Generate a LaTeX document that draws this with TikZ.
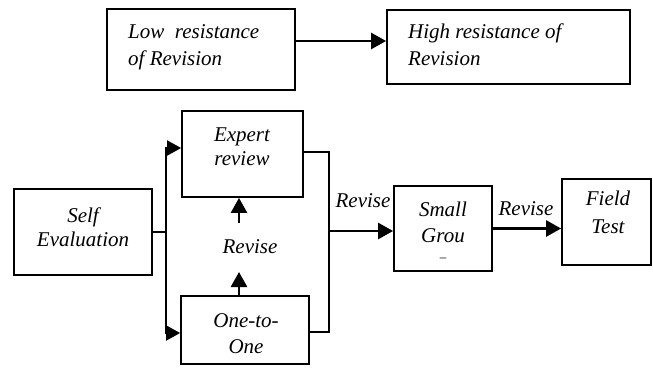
\documentclass[tikz,border=0pt]{standalone}
\usepackage{fontspec}
\setmainfont{Liberation Serif}
\usetikzlibrary{arrows.meta}
\begin{document}
\begin{tikzpicture}[x=1pt,y=-1pt,
  box/.style={draw, line width=1.8pt, inner sep=0pt},
  txt/.style={inner sep=0pt, font=\fontsize{21}{26}\selectfont\itshape},
  conn/.style={line width=1.9pt},
  arr/.style={line width=2.6pt, -{Triangle[length=15pt,width=16pt]}},
  arrthin/.style={line width=1.9pt, -{Triangle[length=14pt,width=15pt]}}]
\useasboundingbox (0,0) rectangle (653,367);
% boxes
\node[box, minimum width=188pt, minimum height=81pt] (Low) at (201,49.5) {};
\node[box, minimum width=243pt, minimum height=74pt] (High) at (508.5,47) {};
\node[box, minimum width=121pt, minimum height=86pt] (Expert) at (242.5,154) {};
\node[box, minimum width=138pt, minimum height=86pt] (Self) at (83,232) {};
\node[box, minimum width=128pt, minimum height=68pt] (One) at (245,330) {};
\node[box, minimum width=98pt, minimum height=85pt] (Small) at (443,228.5) {};
\node[box, minimum width=89pt, minimum height=86pt] (Field) at (606.5,222) {};
% texts
\node[txt, anchor=base west] (tLowA) at (128,38) {Low~~resistance};
\node[txt, anchor=base west] (tLowB) at (128,65) {of Revision};
\node[txt, anchor=base west] (tHighA) at (408,38) {High resistance of};
\node[txt, anchor=base west] (tHighB) at (408,65) {Revision};
\node[txt, anchor=base] (tExpA) at (242,141) {Expert};
\node[txt, anchor=base] (tExpB) at (242,165) {review};
\node[txt, anchor=base] (tSelfA) at (83,222) {Self};
\node[txt, anchor=base] (tSelfB) at (83,246) {Evaluation};
\node[txt, anchor=base] (tOneA) at (246,327) {One-to-};
\node[txt, anchor=base] (tOneB) at (246,353) {One};
\node[txt, anchor=base] (tRevM) at (250,253) {Revise};
\node[txt, anchor=base] (tSmallA) at (443,216) {Small};
\node[txt, anchor=base] (tSmallB) at (443,242) {Grou};
\node[inner sep=0pt, anchor=base, font=\fontsize{13}{13}\selectfont] (tSmallC) at (443,261) {--};
\node[txt, anchor=base] (tFieldA) at (608,205) {Field};
\node[txt, anchor=base] (tFieldB) at (608,233) {Test};
\node[txt, anchor=base] (tRevA) at (363,207) {Revise};
\node[txt, anchor=base] (tRevB) at (526,215) {Revise};
% coordinates
\coordinate (ty) at (0,41);
\coordinate (jL) at (166,232);
\coordinate (jR) at (329,231);
\coordinate (m1) at (239,272);
\coordinate (m2) at (239,223);
% connectors
\draw[arr] (Low.east |- ty) -- (High.west |- ty);
\draw[conn] (Self.east) -- (jL);
\draw[arrthin] (jL) |- ([yshift=6pt]Expert.west);
\draw[arrthin] (jL) |- ([yshift=-3pt]One.west);
\draw[conn] ([yshift=2pt]Expert.east) -| (jR) |- ([yshift=-2pt]One.east);
\draw[arr] (jR) -- (Small.west |- jR);
\draw[arr] (Small.east) -- (Field.west |- Small.east);
\draw[arr] (One.north -| m1) -- (m1);
\draw[arr] (m2) -- (Expert.south -| m2);
\end{tikzpicture}
\end{document}
